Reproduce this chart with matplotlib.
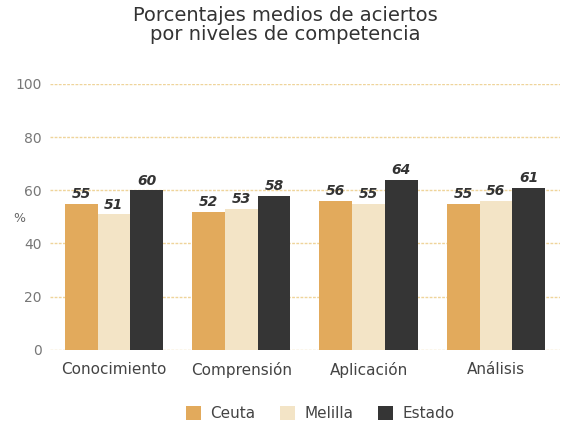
import matplotlib
matplotlib.use("Agg")
import matplotlib.pyplot as plt
import numpy as np

categories = ["Conocimiento", "Comprensión", "Aplicación", "Análisis"]
series_names = ["Ceuta", "Melilla", "Estado"]
ceuta = [55, 52, 56, 55]
melilla = [51, 53, 55, 56]
estado = [60, 58, 64, 61]
yticks = [0, 20, 40, 60, 80, 100]

colors = ["#e2aa5c", "#f3e4c6", "#353535"]

fig = plt.figure(figsize=(5.71, 4.24), dpi=100)
ax = fig.add_axes([0.088, 0.175, 0.892, 0.627])

x = np.arange(len(categories))
w = 0.257
for i, (vals, c, name) in enumerate(zip([ceuta, melilla, estado], colors, series_names)):
    pos = x + (i - 1) * w
    ax.bar(pos, vals, width=w, color=c, label=name, zorder=3)
    for p, v in zip(pos, vals):
        ax.text(p, v + 1, str(v), ha="center", va="bottom", fontsize=10,
                style="italic", fontweight="bold", color="#333333")

ax.set_xlim(-0.5, 3.5)
ax.set_ylim(0, 100)
ax.set_yticks(yticks)
ax.set_yticklabels([str(t) for t in yticks], color="#777777", fontsize=10)
ax.set_xticks(x)
ax.set_xticklabels(categories, fontsize=11, color="#444444")
ax.tick_params(axis="x", length=0, pad=9)
ax.tick_params(axis="y", length=0, pad=6)
ax.yaxis.grid(True, color="#efd49a", linestyle=(0, (2, 1)), linewidth=1, zorder=0)
for s in ax.spines.values():
    s.set_visible(False)
ax.set_ylabel("%", rotation=0, color="#666666", fontsize=9)
ax.yaxis.set_label_coords(-0.06, 0.47)

fig.suptitle("Porcentajes medios de aciertos\npor niveles de competencia",
             y=0.985, fontsize=14, color="#333333", linespacing=1.0)

ax.legend(loc="upper center", bbox_to_anchor=(0.53, -0.16), ncol=3, frameon=False,
          fontsize=11, handlelength=1.0, handleheight=1.0, columnspacing=1.6,
          handletextpad=0.6, labelcolor="#444444")

fig.savefig("out.png", dpi=100, facecolor="white")
